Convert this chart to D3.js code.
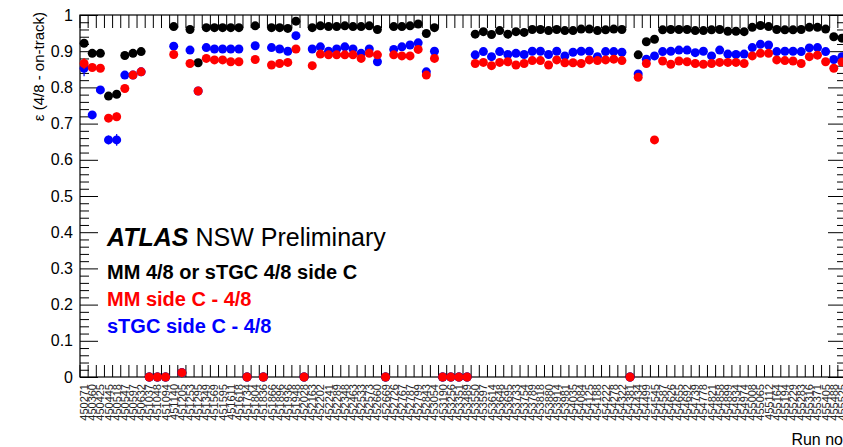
<!DOCTYPE html>
<html>
<head>
<meta charset="utf-8">
<script src="https://cdn.jsdelivr.net/npm/d3@7"></script>
<style>
    body { margin: 0; background: #fff; }
    svg { display: block; font-family: "Liberation Sans", Arial, Helvetica, sans-serif; }
</style>
</head>
<body>
<div id="chart"></div>
<script>
// Run numbers on the x axis (one bin each)
const runs = [
    450271, 450360, 450425, 450445, 450518, 450547, 450597, 450632, 451037, 451048,
    451094, 451140, 451205, 451253, 451295, 451349, 451569, 451595, 451611, 451618,
    451734, 451804, 451836, 451866, 451896, 451936, 451948, 452028, 452163, 452202,
    452241, 452289, 452348, 452463, 452533, 452573, 452660, 452669, 452726, 452767,
    452787, 452799, 452843, 453054, 453190, 453256, 453351, 453489, 453550, 453597,
    453614, 453648, 453695, 453733, 453754, 453789, 453818, 453880, 453914, 453981,
    454035, 454084, 454125, 454188, 454222, 454278, 454322, 454381, 454434, 454499,
    454545, 454587, 454626, 454655, 454692, 454739, 454778, 454821, 454858, 454899,
    454934, 454974, 455008, 455065, 455112, 455164, 455194, 455229, 455283, 455316,
    455371, 455405, 455488, 455525
].map(String);

// MM 4/8 or sTGC 4/8 side C
const effOr = [
    0.922, 0.894, 0.894, 0.776, 0.781, 0.888, 0.894, 0.899, 0, 0,
    0, 0.968, 0.012, 0.960, 0.868, 0.965, 0.965, 0.965, 0.965, 0.965,
    0, 0.970, 0, 0.965, 0.965, 0.963, 0.983, 0, 0.965, 0.970,
    0.968, 0.968, 0.970, 0.968, 0.968, 0.970, 0.960, 0, 0.968, 0.968,
    0.970, 0.975, 0.949, 0.965, 0, 0, 0, 0, 0.947, 0.954,
    0.946, 0.957, 0.947, 0.954, 0.952, 0.960, 0.960, 0.957, 0.960, 0.957,
    0.957, 0.961, 0.961, 0.957, 0.959, 0.961, 0.960, 0, 0.890, 0.926,
    0.933, 0.959, 0.960, 0.960, 0.960, 0.957, 0.957, 0.959, 0.960, 0.955,
    0.955, 0.954, 0.966, 0.971, 0.968, 0.960, 0.959, 0.959, 0.960, 0.966,
    0.966, 0.961, 0.940, 0.936
];

// MM side C - 4/8
const effMM = [
    0.866, 0.855, 0.853, 0.715, 0.719, 0.797, 0.834, 0.843, 0, 0,
    0, 0.891, 0.012, 0.866, 0.790, 0.880, 0.876, 0.876, 0.871, 0.871,
    0, 0.877, 0, 0.862, 0.866, 0.869, 0.906, 0, 0.860, 0.892,
    0.890, 0.890, 0.890, 0.890, 0.880, 0.894, 0.890, 0, 0.890, 0.887,
    0.887, 0.905, 0.834, 0.880, 0, 0, 0, 0, 0.866, 0.869,
    0.860, 0.869, 0.871, 0.862, 0.866, 0.874, 0.874, 0.862, 0.876, 0.868,
    0.868, 0.866, 0.876, 0.874, 0.876, 0.878, 0.874, 0, 0.828, 0.866,
    0.655, 0.873, 0.864, 0.873, 0.871, 0.866, 0.864, 0.866, 0.869, 0.869,
    0.869, 0.866, 0.887, 0.894, 0.894, 0.876, 0.874, 0.873, 0.866, 0.885,
    0.889, 0.871, 0.853, 0.870
];

// sTGC side C - 4/8
const effTGC = [
    0.853, 0.724, 0.793, 0.655, 0.655, 0.834, 0.834, 0.843, 0, 0,
    0, 0.914, 0.012, 0.903, 0.790, 0.910, 0.906, 0.906, 0.906, 0.906,
    0, 0.915, 0, 0.910, 0.906, 0.900, 0.943, 0, 0.906, 0.912,
    0.900, 0.906, 0.912, 0.906, 0.894, 0.906, 0.871, 0, 0.905, 0.912,
    0.917, 0.923, 0.843, 0.900, 0, 0, 0, 0, 0.890, 0.899,
    0.885, 0.899, 0.891, 0.894, 0.891, 0.900, 0.900, 0.891, 0.900, 0.887,
    0.897, 0.900, 0.900, 0.885, 0.899, 0.899, 0.897, 0, 0.837, 0.878,
    0.887, 0.899, 0.900, 0.903, 0.903, 0.896, 0.900, 0.887, 0.903, 0.892,
    0.891, 0.892, 0.910, 0.919, 0.917, 0.899, 0.900, 0.900, 0.899, 0.909,
    0.910, 0.899, 0.877, 0.885
];

// statistical errors (only visible ones, rest hidden by the markers)
const errMM = [0.015, 0, 0, 0.010, 0.012];
const errTGC = [0.022, 0, 0, 0.012, 0.016];

const yTicks = d3.range(0, 11).map(i => i / 10);

const width = 843, height = 447;
const margin = { top: 15, right: -3, bottom: 70, left: 80 };

const svg = d3.select("#chart").append("svg")
    .attr("width", width)
    .attr("height", height)
    .style("background", "#fff");

const x = d3.scaleBand()
    .domain(runs)
    .range([margin.left, width - margin.right])
    .padding(0);

const y = d3.scaleLinear()
    .domain([0, 1])
    .range([height - margin.bottom, margin.top]);

const bw = x.bandwidth();
const x0 = margin.left, x1 = width - margin.right;
const yTop = y(1), yBot = y(0);

// x ticks at the bin edges, top and bottom
const edges = runs.map(r => x(r)).concat([x1]);
svg.append("g").selectAll("line.bt")
    .data(edges).enter().append("line")
    .attr("x1", d => d).attr("x2", d => d)
    .attr("y1", yBot).attr("y2", yBot - 12)
    .attr("stroke", "#000");
svg.append("g").selectAll("line.tt")
    .data(edges).enter().append("line")
    .attr("x1", d => d).attr("x2", d => d)
    .attr("y1", yTop).attr("y2", yTop + 13)
    .attr("stroke", "#000");

// run number labels, vertical
svg.append("g").selectAll("text")
    .data(runs).enter().append("text")
    .attr("transform", d => `translate(${x(d) + bw / 2 + 4},${yBot + 7}) rotate(-90)`)
    .attr("text-anchor", "end")
    .style("font-size", "11px")
    .attr("fill", "#222")
    .text(d => d);

// y axis: major + minor ticks, left and right
const minor = d3.range(0, 51).map(i => i / 50).filter((d, i) => i % 5 !== 0);

svg.append("g")
    .attr("transform", `translate(${x0},0)`)
    .call(d3.axisLeft(y).tickValues(minor).tickSize(-9).tickFormat(""))
    .call(g => g.select(".domain").remove());

svg.append("g")
    .attr("transform", `translate(${x0},0)`)
    .call(d3.axisLeft(y).tickValues(yTicks).tickSize(-18).tickPadding(7)
        .tickFormat(d3.format("~g")))
    .call(g => g.select(".domain").remove())
    .call(g => g.selectAll("text")
        .style("font-size", "16px")
        .style("font-family", "'Liberation Sans', Arial, sans-serif")
        .attr("fill", "#000"));

svg.append("g")
    .attr("transform", `translate(${x1},0)`)
    .call(d3.axisRight(y).tickValues(minor).tickSize(-9).tickFormat(""))
    .call(g => g.select(".domain").remove());

svg.append("g")
    .attr("transform", `translate(${x1},0)`)
    .call(d3.axisRight(y).tickValues(yTicks).tickSize(-18).tickFormat(""))
    .call(g => g.select(".domain").remove());

// frame
svg.append("rect")
    .attr("x", x0).attr("y", yTop)
    .attr("width", x1 - x0).attr("height", yBot - yTop)
    .attr("fill", "none")
    .attr("stroke", "#000")
    .attr("stroke-width", 1.2);

// axis titles
svg.append("text")
    .attr("transform", `translate(44,${yTop - 3}) rotate(-90)`)
    .attr("text-anchor", "end")
    .style("font-size", "15px")
    .text("ε (4/8 - on-track)");

svg.append("text")
    .attr("x", 843).attr("y", 445)
    .attr("text-anchor", "end")
    .style("font-size", "16px")
    .text("Run no");

// series: black, then blue, then red on top
const series = [
    { values: effOr, err: [], color: "#000000" },
    { values: effTGC, err: errTGC, color: "#0000ff" },
    { values: effMM, err: errMM, color: "#ff0000" }
];

series.forEach(function(s) {
    const g = svg.append("g");
    const pts = runs.map((r, i) => ({ run: r, v: s.values[i], e: s.err[i] || 0 }));

    g.selectAll("line")
        .data(pts.filter(d => d.e > 0))
        .enter().append("line")
        .attr("x1", d => x(d.run) + bw / 2)
        .attr("x2", d => x(d.run) + bw / 2)
        .attr("y1", d => y(d.v - d.e))
        .attr("y2", d => y(d.v + d.e))
        .attr("stroke", s.color)
        .attr("stroke-width", 1.2);

    g.selectAll("circle")
        .data(pts)
        .enter().append("circle")
        .attr("cx", d => x(d.run) + bw / 2)
        .attr("cy", d => y(d.v))
        .attr("r", 4.5)
        .attr("fill", s.color);
});

// ATLAS label and legend
const lab = svg.append("text")
    .attr("x", 107).attr("y", 246)
    .style("font-size", "25px");
lab.append("tspan")
    .attr("font-weight", "bold")
    .attr("font-style", "italic")
    .text("ATLAS");
lab.append("tspan")
    .attr("dx", 7)
    .text("NSW Preliminary");

const legend = [
    { text: "MM 4/8 or sTGC 4/8 side C", color: "#000000" },
    { text: "MM side C - 4/8", color: "#ff0000" },
    { text: "sTGC side C - 4/8", color: "#0000ff" }
];

svg.append("g").selectAll("text")
    .data(legend).enter().append("text")
    .attr("x", 107)
    .attr("y", (d, i) => 279 + i * 27)
    .style("font-size", "20px")
    .attr("font-weight", "bold")
    .attr("fill", d => d.color)
    .text(d => d.text);
</script>
</body>
</html>
